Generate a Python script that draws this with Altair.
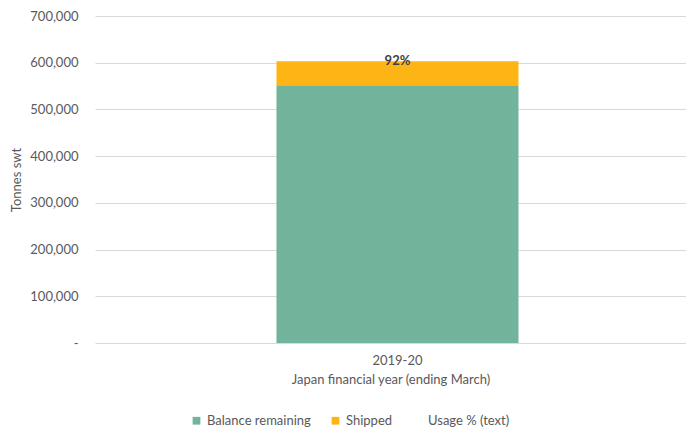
import altair as alt
import pandas as pd

years = ["2019-20"]
balance_remaining = [552000]
shipped = [51000]
usage_text = ["92%"]

series_names = ["Balance remaining", "Shipped", "Usage % (text)"]
series_colors = ["#72B39B", "#FDB515", "rgba(0,0,0,0)"]

rows = []
for i, y in enumerate(years):
    rows.append({"year": y, "series": "Balance remaining", "value": balance_remaining[i], "ord": 0})
    rows.append({"year": y, "series": "Shipped", "value": shipped[i], "ord": 1})
bars_df = pd.DataFrame(rows)

text_df = pd.DataFrame({
    "year": years,
    "total": [b + s for b, s in zip(balance_remaining, shipped)],
    "label": usage_text,
})

FONT = "Lato"
GREY = "#595959"

x_enc = alt.X(
    "year:N",
    title="Japan financial year (ending March)",
    scale=alt.Scale(paddingInner=0, paddingOuter=0.721, align=0.52),
    axis=alt.Axis(labelAngle=0, domain=False, ticks=False, labelPadding=11,
                  titlePadding=6, labelFontSize=13, titleFontSize=13,
                  labelColor=GREY, titleColor=GREY, titleFontWeight="normal"),
)

bars = alt.Chart(bars_df).mark_bar().encode(
    x=x_enc,
    y=alt.Y(
        "value:Q",
        stack="zero",
        title="Tonnes swt",
        scale=alt.Scale(domain=[0, 700000], nice=False),
        axis=alt.Axis(values=[0, 100000, 200000, 300000, 400000, 500000, 600000, 700000],
                      labelExpr="datum.value == 0 ? '-' : format(datum.value, ',')",
                      domain=False, ticks=False, labelPadding=17, titlePadding=6,
                      gridColor="#D9D9D9", labelFontSize=13, titleFontSize=13,
                      labelColor=GREY, titleColor=GREY, titleFontWeight="normal"),
    ),
    color=alt.Color(
        "series:N",
        scale=alt.Scale(domain=series_names, range=series_colors),
        legend=alt.Legend(title=None, orient="none", direction="horizontal",
                          legendX=95, legendY=398, symbolType="square",
                          symbolSize=60, symbolStrokeWidth=0, labelFontSize=13,
                          labelColor=GREY, columnPadding=18, labelOffset=4),
    ),
    order=alt.Order("ord:Q"),
)

text = alt.Chart(text_df).mark_text(
    fontWeight="bold", fontSize=13, color="#404040", baseline="middle", font=FONT
).encode(
    x=alt.X("year:N"),
    y=alt.Y("total:Q"),
    text="label:N",
)

chart = alt.layer(bars, text).properties(
    width=591,
    height=327,
    autosize=alt.AutoSizeParams(type="none"),
    padding={"left": 87, "top": 8, "right": 0, "bottom": 94},
).configure(font=FONT).configure_view(stroke=None)

chart.save("out.html", embed_options={"renderer": "svg", "actions": False})
